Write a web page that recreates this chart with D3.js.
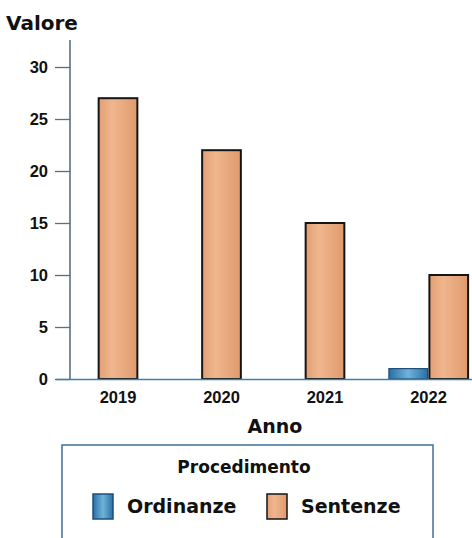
<!DOCTYPE html>
<html><head><meta charset="utf-8">
<script src="https://cdn.jsdelivr.net/npm/d3@7"></script>
<style>
html,body{margin:0;padding:0;background:#fff;}
svg{display:block;font-family:"DejaVu Sans",sans-serif;}
</style></head>
<body>
<svg id="chart" width="472" height="538"></svg>
<script>
const years = ["2019","2020","2021","2022"];
const seriesNames = ["Ordinanze","Sentenze"];
const ordinanze = [0,0,0,1];
const sentenze = [27,22,15,10];
const yTicks = [0,5,10,15,20,25,30];

const svg = d3.select("#chart");
const defs = svg.append("defs");
const gO = defs.append("linearGradient").attr("id","gO").attr("x1","0").attr("x2","1").attr("y1","0").attr("y2","0");
gO.append("stop").attr("offset","0").attr("stop-color","#2a6fa6");
gO.append("stop").attr("offset","0.5").attr("stop-color","#6fb3d8");
gO.append("stop").attr("offset","1").attr("stop-color","#2a6fa6");
const gS = defs.append("linearGradient").attr("id","gS").attr("x1","0").attr("x2","1").attr("y1","0").attr("y2","0");
gS.append("stop").attr("offset","0").attr("stop-color","#e39f72");
gS.append("stop").attr("offset","0.35").attr("stop-color","#f0b68e");
gS.append("stop").attr("offset","1").attr("stop-color","#e09a6c");
const fills = {Ordinanze:"url(#gO)", Sentenze:"url(#gS)"};
const strokes = {Ordinanze:"#1d4f78", Sentenze:"#151515"};

const x = d3.scaleBand().domain(years).range([66.25, 480.25]).paddingInner(0).paddingOuter(0);
const y = d3.scaleLinear().domain([0,30]).range([379,67]);
const barW = 40.5;

// y axis
const yAxis = d3.axisLeft(y).tickValues(yTicks).tickSize(15).tickPadding(7);
const gy = svg.append("g").attr("transform","translate(70,0)").call(yAxis);
gy.select(".domain").remove();
gy.selectAll(".tick line").attr("stroke","#5a6f80").attr("stroke-width",1.3);
gy.selectAll(".tick text").attr("font-size",16.5).attr("fill","#111").attr("font-weight","bold").attr("dy","0.36em");
svg.append("line").attr("x1",70).attr("x2",70).attr("y1",40).attr("y2",379)
  .attr("stroke","#5a6f80").attr("stroke-width",1.6);

// bars
years.forEach((yr,i)=>{
  const present = [];
  if (ordinanze[i] > 0) present.push({s:"Ordinanze", v:ordinanze[i]});
  if (sentenze[i] > 0) present.push({s:"Sentenze", v:sentenze[i]});
  const cx = x(yr) + x.bandwidth()/2;
  const start = cx - present.length*barW/2;
  present.forEach((d,j)=>{
    svg.append("rect")
      .attr("x", start + j*barW + 0.9)
      .attr("y", y(d.v))
      .attr("width", barW - 1.8)
      .attr("height", y(0)-y(d.v))
      .attr("fill", fills[d.s])
      .attr("stroke", strokes[d.s])
      .attr("stroke-width", d.s==="Sentenze" ? 2 : 1.2);
  });
});

// x axis
const xAxis = d3.axisBottom(x).tickSize(0).tickPadding(12);
const gx = svg.append("g").attr("transform","translate(0,379)").call(xAxis);
gx.select(".domain").remove();
gx.selectAll(".tick text").attr("font-size",16.5).attr("fill","#111").attr("font-weight","bold").attr("dy","0.71em");
svg.append("line").attr("x1",56).attr("x2",472).attr("y1",379.5).attr("y2",379.5)
  .attr("stroke","#3f7fa8").attr("stroke-width",1.6);

// axis titles
svg.append("text").attr("x",6).attr("y",30).text("Valore")
  .attr("font-size",20).attr("font-weight","bold").attr("fill","#111");
svg.append("text").attr("x",275).attr("y",433).attr("text-anchor","middle").text("Anno")
  .attr("font-size",19).attr("font-weight","bold").attr("fill","#111");

// legend
svg.append("rect").attr("x",62).attr("y",445).attr("width",371).attr("height",110)
  .attr("fill","#fff").attr("stroke","#3f6f96").attr("stroke-width",1.5);
svg.append("text").attr("x",244).attr("y",473).attr("text-anchor","middle").text("Procedimento")
  .attr("font-size",17).attr("font-weight","bold").attr("fill","#111");
const legItems = [
  {s:seriesNames[0], sx:93, tx:127},
  {s:seriesNames[1], sx:267, tx:301}
];
legItems.forEach(d=>{
  svg.append("rect").attr("x",d.sx).attr("y",494).attr("width",20).attr("height",25)
    .attr("fill",fills[d.s]).attr("stroke",strokes[d.s]).attr("stroke-width",1.5);
  svg.append("text").attr("x",d.tx).attr("y",513).text(d.s)
    .attr("font-size",19).attr("font-weight","bold").attr("fill","#111");
});
</script>
</body></html>
